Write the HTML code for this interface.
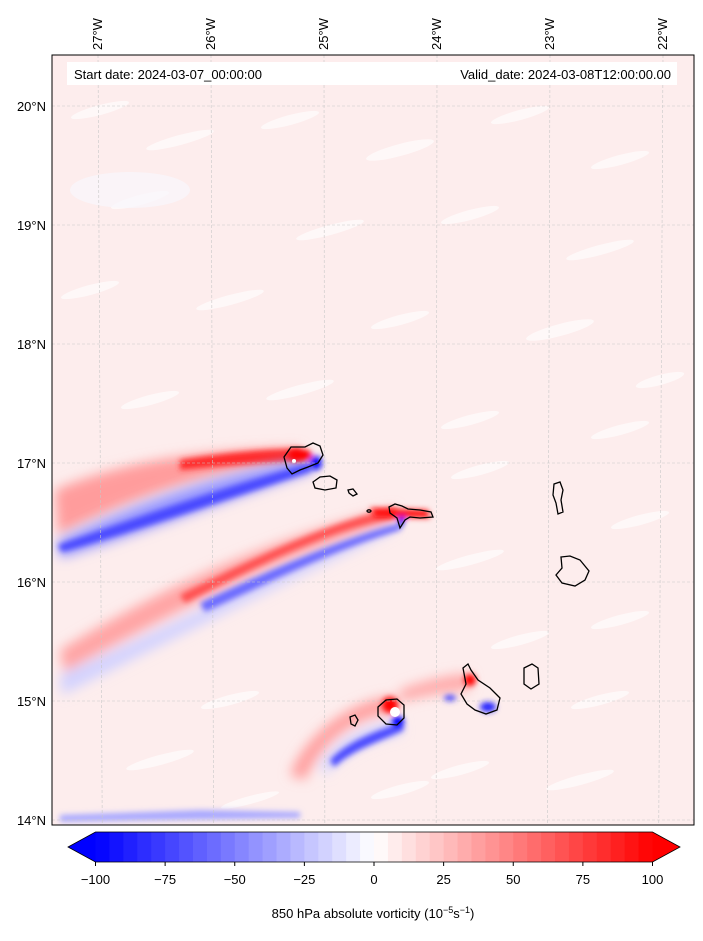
<!DOCTYPE html>
<html><head><meta charset="utf-8"><style>
body{margin:0;background:#fff;width:703px;height:936px;overflow:hidden;font-family:"Liberation Sans","DejaVu Sans",sans-serif}
svg text{font-family:"Liberation Sans","DejaVu Sans",sans-serif}
</style></head><body>
<svg id="fig" width="703" height="936" viewBox="0 0 703 936">
<defs>
<filter id="b3" x="-20%" y="-50%" width="140%" height="200%"><feGaussianBlur stdDeviation="3"/></filter>
<filter id="b6" x="-20%" y="-50%" width="140%" height="200%"><feGaussianBlur stdDeviation="6"/></filter>
<filter id="b1" x="-20%" y="-50%" width="140%" height="200%"><feGaussianBlur stdDeviation="1.5"/></filter>
<clipPath id="plotclip"><rect x="52" y="55" width="642" height="770"/></clipPath>
</defs>
<g clip-path="url(#plotclip)">
<rect x="52" y="55" width="642" height="770" fill="#fdeded"/>
<g id="texture"></g>
<!-- upper streak -->
<g filter="url(#b6)">
<path d="M55,490 C120,462 200,450 300,448 L300,462 C200,470 120,505 58,535 Z" fill="#ff9c9c"/>
</g>
<g filter="url(#b3)">
<path d="M180,460 C230,452 270,449 300,449 L300,463 C270,462 230,465 180,470 Z" fill="#ff2a2a"/>
</g>
<g filter="url(#b6)">
<path d="M58,540 C130,505 220,472 312,458 L312,472 C230,498 140,535 60,558 Z" fill="#9a9aff"/>
</g>
<g filter="url(#b3)">
<path d="M58,545 C130,520 220,488 310,463 L312,471 C230,498 140,530 62,552 Z" fill="#4848ff"/>
</g>
<!-- middle streak -->
<g filter="url(#b6)">
<path d="M60,650 C150,595 260,540 395,508 L395,522 C270,560 160,620 64,672 Z" fill="#ffa4a4"/>
<path d="M60,675 C160,630 280,570 395,522 L395,530 C290,580 170,640 62,695 Z" fill="#d2d2ff"/>
</g>
<g filter="url(#b3)">
<path d="M180,595 C260,555 330,522 395,508 L395,518 C330,530 265,562 185,603 Z" fill="#ff5050"/>
<path d="M200,603 C280,565 340,540 398,524 L400,530 C340,548 285,575 205,612 Z" fill="#6a6aff"/>
</g>
<g filter="url(#b3)"><path d="M370,508 L428,510 L430,518 L375,517 Z" fill="#ff1010"/><path d="M398,517 L406,517 L400,530 Z" fill="#0000ff"/></g>
<!-- bottom features -->
<g filter="url(#b6)">
<path d="M290,775 C305,735 350,700 395,696 L395,712 C350,718 320,745 305,780 Z" fill="#ff9e9e"/>
<path d="M400,690 C430,678 460,674 470,674 L470,690 C440,692 420,697 400,702 Z" fill="#ffa8a8"/>
<path d="M320,765 C340,735 370,725 400,720 L402,734 C370,740 345,752 325,775 Z" fill="#d4d4ff"/>
</g>
<g filter="url(#b3)">
<path d="M330,760 C350,740 375,732 402,722 L404,730 C378,742 352,750 334,767 Z" fill="#4a4aff"/>
<circle cx="390" cy="705" r="8" fill="#ff0000"/>
<circle cx="398" cy="722" r="6" fill="#0000ff"/>
<circle cx="470" cy="680" r="6" fill="#ff0000"/>
<ellipse cx="488" cy="707" rx="8" ry="5" fill="#2020ff"/>
<ellipse cx="450" cy="698" rx="6" ry="3" fill="#4040ff"/>
<ellipse cx="300" cy="455" rx="12" ry="6" fill="#ff0000"/>
<ellipse cx="316" cy="463" rx="6" ry="7" fill="#1010ff"/>
</g>
<circle cx="395" cy="712" r="5" fill="#fff"/>
<circle cx="294" cy="461" r="2" fill="#fff"/>
<g filter="url(#b3)"><path d="M60,815 L200,810 L300,812 L300,818 L60,822 Z" fill="#a8a8ff"/></g>
<g id="grid"></g>
<!-- islands -->
<g fill="none" stroke="#000" stroke-width="1.3">
<path d="M284,457 L291,447 L305,447 L313,443 L320,446 L323,455 L318,463 L308,467 L300,470 L292,474 L287,468 Z"/>
<path d="M313,482 L320,477 L330,476 L337,480 L336,488 L325,490 L315,488 Z"/>
<path d="M348,490 L353,489 L357,494 L353,496 L349,493 Z"/>
<ellipse cx="369" cy="511" rx="2" ry="1.2"/>
<path d="M389,507 L395,504 L402,506 L408,509 L420,510 L431,512 L433,517 L420,518 L410,517 L405,520 L400,528 L397,518 L390,513 Z"/>
<path d="M554,484 L560,482 L563,490 L561,500 L563,512 L558,514 L556,503 L553,495 Z"/>
<path d="M561,557 L570,556 L580,560 L589,571 L585,580 L575,586 L562,583 L556,575 L562,568 Z"/>
<path d="M524,668 L532,664 L538,668 L539,684 L531,689 L524,684 Z"/>
<path d="M463,668 L468,664 L471,670 L478,680 L490,688 L500,698 L497,710 L486,714 L475,710 L467,704 L461,694 L466,684 Z"/>
<path d="M378,707 L386,700 L397,699 L404,705 L404,718 L397,725 L386,724 L378,716 Z"/>
<path d="M350,717 L355,715 L358,720 L355,726 L351,724 Z"/>
</g>
</g>
<rect x="52" y="55" width="642" height="770" fill="none" stroke="#000" stroke-width="1"/>
<rect x="67" y="62" width="610" height="23" fill="#fff"/>
<text x="74" y="79" font-size="13">Start date: 2024-03-07_00:00:00</text>
<text x="671" y="79" font-size="13" text-anchor="end">Valid_date: 2024-03-08T12:00:00.00</text>
<g id="ticks"></g>
<g id="cbar"></g>
<text x="373" y="918" font-size="13" text-anchor="middle">850 hPa absolute vorticity (10<tspan dy="-5" font-size="9">−5</tspan><tspan dy="5">s</tspan><tspan dy="-5" font-size="9">−1</tspan><tspan dy="5">)</tspan></text>
</svg>
<script>
const lonTicks=[-27,-26,-25,-24,-23,-22];
const lonLabels=["27°W","26°W","25°W","24°W","23°W","22°W"];
const latTicks=[20,19,18,17,16,15,14];
const latLabels=["20°N","19°N","18°N","17°N","16°N","15°N","14°N"];
const cbLevels=[-100,-95,-90,-85,-80,-75,-70,-65,-60,-55,-50,-45,-40,-35,-30,-25,-20,-15,-10,-5,0,5,10,15,20,25,30,35,40,45,50,55,60,65,70,75,80,85,90,95,100];
const cbTicks=[-100,-75,-50,-25,0,25,50,75,100];
const NS='http://www.w3.org/2000/svg';
function mk(t,a,p){const e=document.createElementNS(NS,t);for(const k in a)e.setAttribute(k,a[k]);p.appendChild(e);return e;}
function xLon(l){return 437+(l+24)*113;}
function yLat(l){return 463-(l-17)*119;}
function cbX(v){return 374+v*(653-96)/200;}
function bwr(v){const t=v/100;let r,g,b;if(t<0){r=255*(1+t);g=r;b=255;}else{r=255;g=255*(1-t);b=g;}return `rgb(${Math.round(r)},${Math.round(g)},${Math.round(b)})`;}
// texture: small mottled patches
const tex=document.getElementById('texture');
const pts=[[100,110,30,5],[180,140,35,5],[290,120,30,5],[400,150,35,6],[520,115,30,5],[620,160,30,5],[140,200,30,5],[330,230,35,5],[470,215,30,5],[600,250,35,5],[90,290,30,5],[230,300,35,5],[400,320,30,5],[560,330,35,6],[660,380,25,5],[150,400,30,5],[300,390,35,5],[470,420,30,5],[620,430,30,5],[480,470,30,5],[640,520,30,5],[470,560,35,5],[620,620,30,5],[520,640,30,5],[600,700,30,5],[230,700,30,5],[160,760,35,5],[460,770,30,5],[580,780,35,5],[250,800,30,4],[400,790,30,5]];
pts.forEach(p=>{const e=mk('ellipse',{cx:p[0],cy:p[1],rx:p[2],ry:p[3],fill:'#fff',opacity:0.6,transform:`rotate(-15 ${p[0]} ${p[1]})`},tex);

});
const bl=mk('ellipse',{cx:130,cy:190,rx:60,ry:18,fill:'#f8f6fc',opacity:0.7},tex);


// grid
const grid=document.getElementById('grid');
lonTicks.forEach(l=>{const x=xLon(l);const d=(x-380)*0.015;const e=mk('line',{x1:x,y1:55,x2:x-d,y2:825,stroke:'#c8c8c8','stroke-width':0.6,'stroke-dasharray':'3,2'},grid);

});
latTicks.forEach(l=>{const y=yLat(l);const e=mk('line',{x1:52,y1:y,x2:694,y2:y,stroke:'#c8c8c8','stroke-width':0.6,'stroke-dasharray':'3,2'},grid);

});
// tick labels
const tk=document.getElementById('ticks');
lonTicks.forEach((l,i)=>{const x=xLon(l)+4;const e=mk('text',{x:x,y:50,'font-size':13,transform:`rotate(-90 ${x} 50)`},tk);e.textContent=lonLabels[i];

});
latTicks.forEach((l,i)=>{const y=yLat(l)+5;const e=mk('text',{x:46,y:y,'font-size':13,'text-anchor':'end'},tk);e.textContent=latLabels[i];

});
// colorbar
const cb=document.getElementById('cbar');
for(let i=0;i<cbLevels.length-1;i++){const x0=cbX(cbLevels[i]),x1=cbX(cbLevels[i+1]);const e=mk('rect',{x:x0,y:832,width:x1-x0+0.6,height:30,fill:bwr((cbLevels[i]+cbLevels[i+1])/2)},cb);

}
const lt=mk('polygon',{points:`${cbX(-100)},832 68,847 ${cbX(-100)},862`,fill:bwr(-100)},cb);


const rt=mk('polygon',{points:`${cbX(100)},832 680,847 ${cbX(100)},862`,fill:bwr(100)},cb);


const ol=mk('polygon',{points:`${cbX(-100)},832 ${cbX(100)},832 680,847 ${cbX(100)},862 ${cbX(-100)},862 68,847`,fill:'none',stroke:'#000','stroke-width':0.8},cb);


cbTicks.forEach(v=>{const x=cbX(v);mk('line',{x1:x,y1:862,x2:x,y2:866,stroke:'#000'},cb);const e=mk('text',{x:x,y:884,'font-size':13,'text-anchor':'middle'},cb);e.textContent=(v<0?'−':'')+Math.abs(v);

});
</script>
</body></html>
